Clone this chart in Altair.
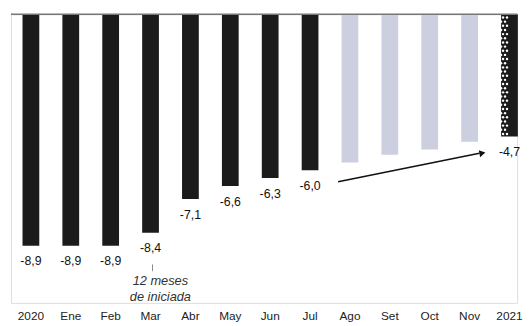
import altair as alt
import pandas as pd

categories = ["2020", "Ene", "Feb", "Mar", "Abr", "May", "Jun", "Jul",
              "Ago", "Set", "Oct", "Nov", "2021"]
values = [-8.9, -8.9, -8.9, -8.4, -7.1, -6.6, -6.3, -6.0,
          -5.7, -5.4, -5.2, -4.9, -4.7]
kinds = ["obs"] * 8 + ["proj"] * 4 + ["year"]
labelled = [True] * 8 + [False] * 4 + [True]
note_lines = ["12 meses", "de iniciada"]

df = pd.DataFrame({"cat": categories, "val": values, "kind": kinds})
df["label"] = [f"{v:.1f}".replace(".", ",") if s else ""
               for v, s in zip(values, labelled)]

FONT = "Liberation Sans"
W, H = 514, 293
xs = alt.Scale(domain=categories, range=[0, 526.5], paddingInner=0.58, paddingOuter=0.29)
ys = alt.Scale(domain=[-11.1, 0], nice=False, zero=False)

base = alt.Chart(df)

bars = base.mark_bar().encode(
    x=alt.X("cat:N", scale=xs, sort=categories,
            axis=alt.Axis(title=None, orient="bottom", domain=False, ticks=False,
                          labelAngle=0, labelPadding=8, labelFont=FONT,
                          labelFontSize=12, labelColor="#222")),
    y=alt.Y("val:Q", scale=ys, axis=None),
    y2=alt.datum(0),
    color=alt.Color("kind:N", legend=None,
                    scale=alt.Scale(domain=["obs", "proj", "year"],
                                    range=["#1b1b1b", "#cbcfdf", "#1b1b1b"])),
)

# polka-dot fill for the 2021 bar
v21 = values[-1]
dot_rows = []
r = 0
yv = -0.12
while yv > v21 + 0.05:
    offs = [-6, -2, 2, 6] if r % 2 == 0 else [-4, 0, 4]
    for o in offs:
        dot_rows.append({"cat": categories[-1], "val": yv, "off": o})
    yv -= 0.16
    r += 1
dots = alt.Chart(pd.DataFrame(dot_rows)).mark_point(
    filled=True, color="white", size=6, opacity=1, shape="circle"
).encode(
    x=alt.X("cat:N", scale=xs, sort=categories),
    y=alt.Y("val:Q", scale=ys),
    xOffset=alt.XOffset("off:Q", scale=None),
)

zero_rule = alt.Chart(pd.DataFrame({"z": [0]})).mark_rule(
    color="#777", strokeWidth=1.5
).encode(y=alt.Y("z:Q", scale=ys))

labels = base.mark_text(
    dy=16, font=FONT, fontSize=12.5, color="#111", baseline="middle"
).encode(
    x=alt.X("cat:N", scale=xs, sort=categories),
    y=alt.Y("val:Q", scale=ys),
    text="label:N",
)

note_df = pd.DataFrame({"cat": ["Mar"], "y": [-10.04]})
note = alt.Chart(note_df).mark_text(
    text=note_lines, font=FONT, fontSize=13, fontStyle="italic",
    color="#333", baseline="top", lineHeight=16, dx=10
).encode(x=alt.X("cat:N", scale=xs, sort=categories), y=alt.Y("y:Q", scale=ys))

tick_df = pd.DataFrame({"cat": ["Mar"], "y": [-9.62], "y2": [-9.88]})
tick = alt.Chart(tick_df).mark_rule(color="#888", strokeWidth=1, xOffset=2).encode(
    x=alt.X("cat:N", scale=xs, sort=categories),
    y=alt.Y("y:Q", scale=ys), y2="y2:Q")

arrow_df = pd.DataFrame({"c1": ["Ago"], "c2": ["Nov"], "y1": [-6.44], "y2": [-5.34]})
arrow_line = alt.Chart(arrow_df).mark_rule(
    color="#111", strokeWidth=1.6, xOffset=-12, x2Offset=10
).encode(
    x=alt.X("c1:N", scale=xs, sort=categories),
    x2="c2:N",
    y=alt.Y("y1:Q", scale=ys), y2="y2:Q")
arrow_head = alt.Chart(arrow_df).mark_point(
    shape="triangle-right", filled=True, color="#111", size=50, angle=349,
    opacity=1, xOffset=13
).encode(x=alt.X("c2:N", scale=xs, sort=categories), y=alt.Y("y2:Q", scale=ys))

chart = alt.layer(bars, dots, zero_rule, labels, note, tick, arrow_line, arrow_head).properties(
    width=W, height=H,
    autosize=alt.AutoSizeParams(type="none"),
    padding={"left": 3, "top": 4, "right": 7, "bottom": 20},
).configure_view(stroke=None).configure(background="white")

chart.save("out.html", embed_options={"renderer": "svg", "actions": False})
